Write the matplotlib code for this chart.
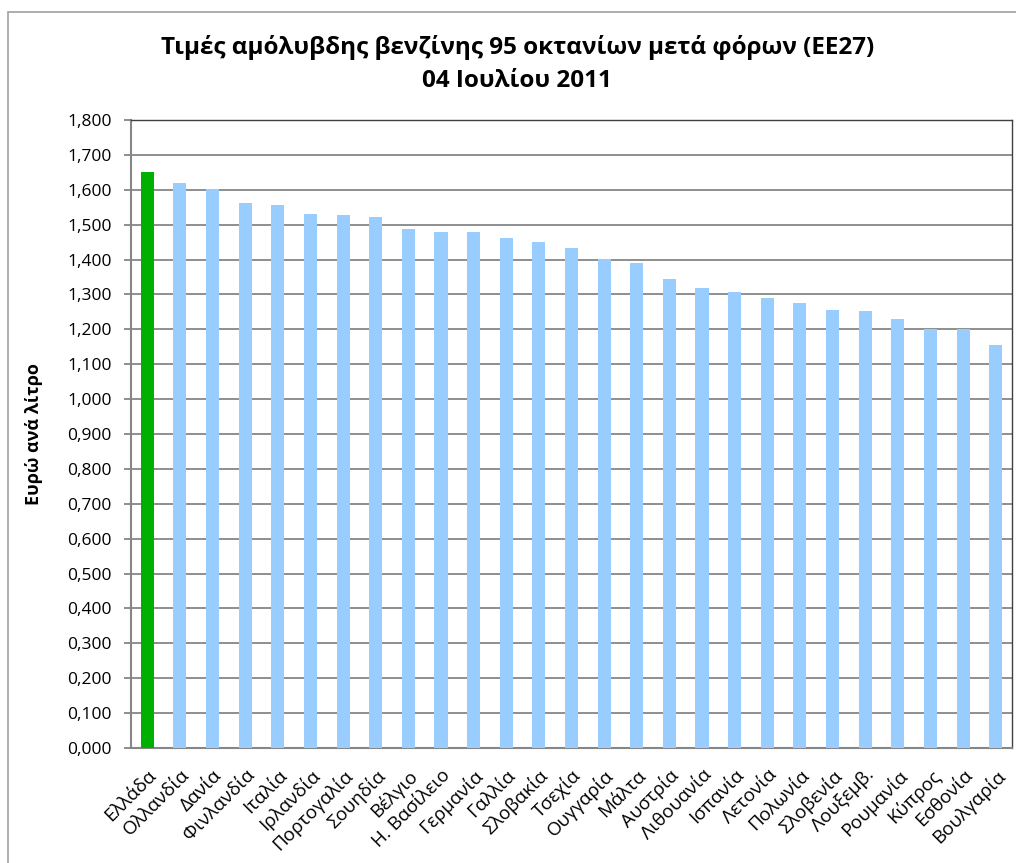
import numpy as np
import matplotlib.pyplot as plt
from matplotlib import font_manager
from matplotlib.ticker import FuncFormatter, MultipleLocator
from matplotlib.patches import Rectangle

# pick a family with Greek glyphs that also ships a bold face
fam = 'DejaVu Sans'
for name in ['Open Sans', 'Noto Sans', 'Lato', 'Roboto']:
    ws = [f.weight for f in font_manager.fontManager.ttflist if f.name == name]
    if any(w in ('bold', 700) or (isinstance(w, int) and w >= 600) for w in ws):
        fam = name
        break
plt.rcParams['font.family'] = [fam, 'DejaVu Sans']

countries = ["Ελλάδα", "Ολλανδία", "Δανία", "Φινλανδία", "Ιταλία", "Ιρλανδία",
             "Πορτογαλία", "Σουηδία", "Βέλγιο", "Η. Βασίλειο", "Γερμανία", "Γαλλία",
             "Σλοβακία", "Τσεχία", "Ουγγαρία", "Μάλτα", "Αυστρία", "Λιθουανία",
             "Ισπανία", "Λετονία", "Πολωνία", "Σλοβενία", "Λουξεμβ.", "Ρουμανία",
             "Κύπρος", "Εσθονία", "Βουλγαρία"]
prices = [1.651, 1.619, 1.602, 1.563, 1.555, 1.531, 1.527, 1.521, 1.488, 1.478,
          1.478, 1.463, 1.450, 1.432, 1.402, 1.389, 1.343, 1.319, 1.308, 1.291,
          1.276, 1.256, 1.252, 1.230, 1.201, 1.201, 1.156]

colors = ["#00B000"] + ["#99CCFF"] * (len(countries) - 1)

fig = plt.figure(figsize=(10.16, 8.63), dpi=100)
ax = fig.add_axes([131 / 1016, 1 - 748 / 863, (1012 - 131) / 1016, (748 - 120) / 863])

x = np.arange(len(countries))
ax.bar(x, prices, width=0.4, color=colors, zorder=3)

ax.set_xlim(-0.5, len(countries) - 0.5)
ax.set_ylim(0, 1.8)
ax.yaxis.set_major_locator(MultipleLocator(0.1))
ax.yaxis.set_major_formatter(FuncFormatter(lambda v, p: f"{v:.3f}".replace('.', ',')))
ax.grid(axis='y', color='#868686', linewidth=1.3, zorder=0)

ax.set_xticks(x)
ax.set_xticklabels(countries, rotation=45, ha='right', rotation_mode='anchor', fontsize=13.5)
ax.tick_params(axis='x', length=0, pad=13)
ax.tick_params(axis='y', labelsize=12.5, length=5, color='#868686', width=1.3, pad=9)

for s in ax.spines.values():
    s.set_color('#404040')
    s.set_linewidth(1.0)
ax.spines['left'].set_color('#868686')
ax.spines['left'].set_linewidth(1.5)
ax.spines['bottom'].set_color('#868686')
ax.spines['bottom'].set_linewidth(1.5)

ax.set_ylabel("Ευρώ ανά λίτρο", fontsize=13, fontweight='bold')
ax.yaxis.set_label_coords(-0.1, 0.5)

fig.text(0.509, 1 - 64 / 863, "Τιμές αμόλυβδης βενζίνης 95 οκτανίων μετά φόρων (ΕΕ27)\n04 Ιουλίου 2011",
         ha='center', va='center', fontsize=17.5, fontweight='bold', linespacing=1.5)

# outer chart border
fig.patches.append(Rectangle((8 / 1016, -0.1), 1.2, 1 - 12 / 863 + 0.1, transform=fig.transFigure,
                             fill=False, edgecolor='#a0a0a0', linewidth=1.2))

plt.savefig("out.png", dpi=100)
